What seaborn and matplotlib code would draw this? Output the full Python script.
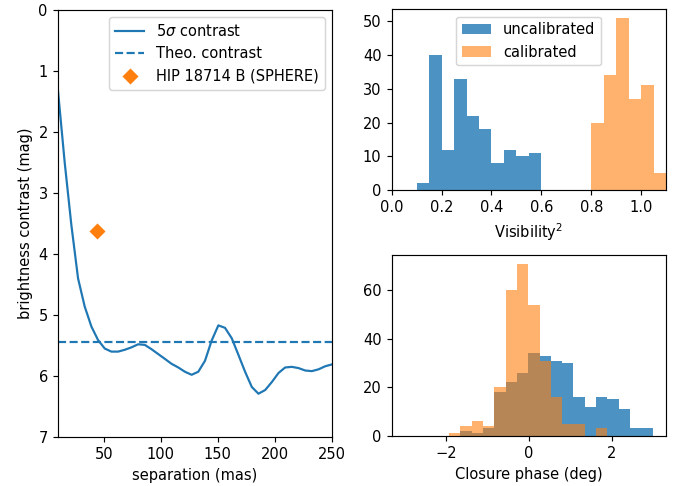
import numpy as np
import pandas as pd
import matplotlib
matplotlib.use('Agg')
import matplotlib.pyplot as plt
import seaborn as sns

# contrast curve (separation in mas, contrast in mag)
sep = [10.0, 15.9, 21.7, 27.6, 33.4, 39.3, 45.1, 51.0, 56.8, 62.7, 68.5,
       74.4, 80.2, 86.1, 91.9, 97.8, 103.7, 109.5, 115.4, 121.2, 127.1,
       132.9, 138.8, 144.6, 150.5, 156.3, 162.2, 168.0, 173.9, 179.8,
       185.6, 191.5, 197.3, 203.2, 209.0, 214.9, 220.7, 226.6, 232.4,
       238.3, 244.1, 250.0]
contrast = [1.32, 2.50, 3.52, 4.40, 4.86, 5.19, 5.41, 5.55, 5.60, 5.60, 5.57,
            5.53, 5.48, 5.49, 5.56, 5.64, 5.72, 5.80, 5.86, 5.93, 5.98,
            5.93, 5.75, 5.42, 5.17, 5.21, 5.38, 5.65, 5.93, 6.18,
            6.29, 6.23, 6.10, 5.95, 5.86, 5.85, 5.87, 5.91, 5.92,
            5.89, 5.84, 5.81]
theo_contrast = 5.45
comp_sep = 44.0
comp_mag = 3.62

# squared visibilities
v2_unc_edges = [0.10, 0.15, 0.20, 0.25, 0.30, 0.35, 0.40, 0.45, 0.50, 0.55, 0.60]
v2_unc_counts = [2, 40, 12, 33, 22, 18, 8, 12, 10, 11]
v2_cal_edges = [0.80, 0.85, 0.90, 0.95, 1.00, 1.05, 1.10]
v2_cal_counts = [20, 34, 51, 27, 31, 5]

# closure phases (deg)
cp_edges = [-1.92, -1.65, -1.38, -1.10, -0.83, -0.56, -0.29, -0.01, 0.26,
            0.53, 0.80, 1.07, 1.35, 1.62, 1.89, 2.16, 2.44, 2.71, 2.98]
cp_unc_counts = [0, 2, 1, 3, 18, 22, 26, 34, 33, 31, 30, 16, 12, 16, 15, 11, 3, 3]
cp_cal_counts = [1, 4, 6, 4, 20, 60, 71, 54, 31, 16, 5, 5, 0, 3, 0, 0, 0, 0]


def centers(edges):
    e = np.asarray(edges)
    return (e[:-1] + e[1:]) / 2


dpi = 105
fig = plt.figure(figsize=(686 / dpi, 486 / dpi), dpi=dpi)
ax1 = fig.add_axes([0.0845, 0.1008, 0.3994, 0.8786])
ax2 = fig.add_axes([0.571, 0.609, 0.400, 0.372])
ax3 = fig.add_axes([0.571, 0.1035, 0.400, 0.372])

df = pd.DataFrame({'sep': sep, 'contrast': contrast})
sns.lineplot(data=df, x='sep', y='contrast', ax=ax1, color='C0', lw=1.5,
             label=r'5$\sigma$ contrast')
ax1.axhline(theo_contrast, color='C0', ls='--', lw=1.5, label='Theo. contrast')
ax1.plot([comp_sep], [comp_mag], 'D', color='C1', ms=6.5, ls='none',
         label='HIP 18714 B (SPHERE)')
ax1.set_xlim(10, 250)
ax1.set_ylim(7, 0)
ax1.set_xlabel('separation (mas)')
ax1.set_ylabel('brightness contrast (mag)')
ax1.legend(loc='upper right')

sns.histplot(x=centers(v2_unc_edges), weights=v2_unc_counts, bins=v2_unc_edges,
             color='C0', alpha=0.8, linewidth=0, ax=ax2, label='uncalibrated')
sns.histplot(x=centers(v2_cal_edges), weights=v2_cal_counts, bins=v2_cal_edges,
             color='C1', alpha=0.6, linewidth=0, ax=ax2, label='calibrated')
ax2.set_xlim(0, 1.1)
ax2.set_xlabel('Visibility$^2$')
ax2.set_ylabel('')
ax2.legend(loc='upper center')

sns.histplot(x=centers(cp_edges), weights=cp_unc_counts, bins=cp_edges,
             color='C0', alpha=0.8, linewidth=0, ax=ax3)
sns.histplot(x=centers(cp_edges), weights=cp_cal_counts, bins=cp_edges,
             color='C1', alpha=0.6, linewidth=0, ax=ax3)
ax3.set_xlim(-3.3, 3.3)
ax3.set_xlabel('Closure phase (deg)')
ax3.set_ylabel('')

fig.savefig('out.png', dpi=dpi)
